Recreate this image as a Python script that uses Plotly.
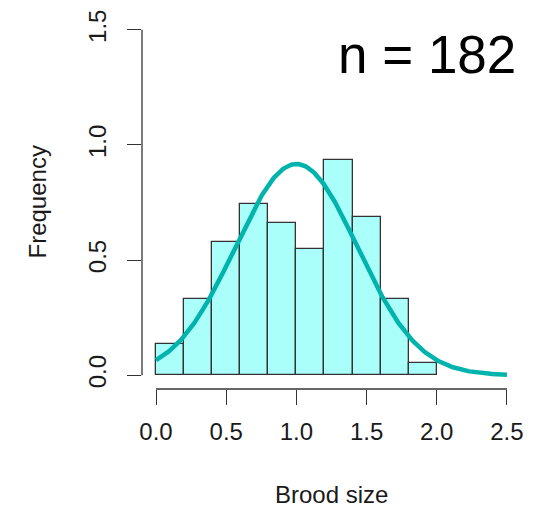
import numpy as np
import plotly.graph_objects as go

# Brood size histogram (bin width 0.2) with a fitted normal curve
bin_left = [0.0, 0.2, 0.4, 0.6, 0.8, 1.0, 1.2, 1.4, 1.6, 1.8]
counts = [5, 12, 21, 27, 24, 20, 34, 25, 12, 2]
bin_width = 0.2
n_total = sum(counts)

fit_mean = 1.0
fit_sd = 0.435

x_ticks = [0.0, 0.5, 1.0, 1.5, 2.0, 2.5]
y_ticks = [0.0, 0.5, 1.0, 1.5]

x_range = [-0.1, 2.6]
y_range = [-0.06, 1.56]

density = [c / (n_total * bin_width) for c in counts]
centers = [b + bin_width / 2 for b in bin_left]

curve_x = np.linspace(0, 2.5, 300)
curve_y = np.exp(-0.5 * ((curve_x - fit_mean) / fit_sd) ** 2) / (fit_sd * np.sqrt(2 * np.pi))

FONT = "Liberation Sans, Arial, sans-serif"

fig = go.Figure()
fig.add_trace(go.Bar(
    x=centers, y=density, width=bin_width,
    marker=dict(color="#abfffa", line=dict(color="#333333", width=1.3)),
    hoverinfo="skip",
))
fig.add_trace(go.Scatter(
    x=curve_x, y=curve_y, mode="lines",
    line=dict(color="#00b3ad", width=4.5),
    hoverinfo="skip",
))


def px(v):
    return (v - x_range[0]) / (x_range[1] - x_range[0])


def py(v):
    return (v - y_range[0]) / (y_range[1] - y_range[0])


axis_line = dict(color="#333333", width=1.3)
shapes = [
    dict(type="line", xref="paper", yref="paper",
         x0=0, x1=0, y0=py(y_ticks[0]), y1=py(y_ticks[-1]), line=axis_line),
    dict(type="line", xref="paper", yref="paper",
         x0=px(x_ticks[0]), x1=px(x_ticks[-1]), y0=0, y1=0, line=axis_line),
]

fig.update_layout(
    width=539, height=510,
    margin=dict(l=142, r=18, t=10, b=121),
    paper_bgcolor="white", plot_bgcolor="white",
    showlegend=False,
    bargap=0,
    font=dict(family=FONT, size=24, color="#1a1a1a"),
    shapes=shapes,
    xaxis=dict(
        range=x_range, tickvals=x_ticks, tickformat=".1f",
        showgrid=False, zeroline=False, showline=False,
        ticks="outside", ticklen=15, tickwidth=1.3, tickcolor="#333333",
        ticklabelstandoff=6,
    ),
    yaxis=dict(
        range=y_range, tickvals=y_ticks, tickformat=".1f",
        showgrid=False, zeroline=False, showline=False,
        ticks="outside", ticklen=14, tickwidth=1.3, tickcolor="#333333",
        tickangle=-90, ticklabelstandoff=11,
    ),
    annotations=[
        dict(text="Brood size", xref="paper", yref="paper", x=0.5, y=0,
             xanchor="center", yanchor="middle", yshift=-105, showarrow=False,
             font=dict(size=24)),
        dict(text="Frequency", xref="paper", yref="paper", x=0, y=0.5,
             xanchor="center", yanchor="middle", xshift=-105, textangle=-90,
             showarrow=False, font=dict(size=24)),
        dict(text=f"n = {n_total}", xref="paper", yref="paper", x=1, y=1,
             xanchor="right", yanchor="middle", xshift=-3, yshift=-38,
             showarrow=False, font=dict(size=53, color="black")),
    ],
)

fig.write_html("out.html")
